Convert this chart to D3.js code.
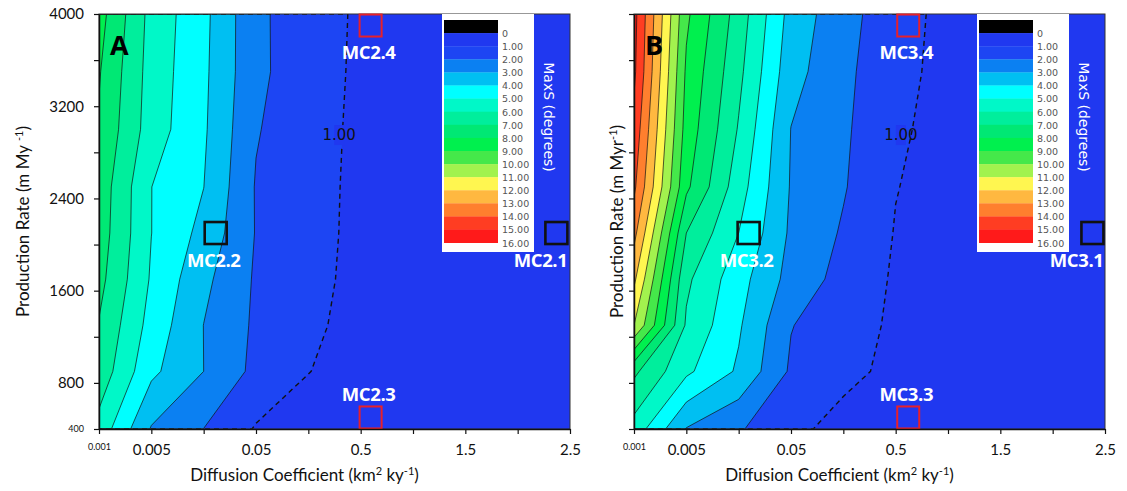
<!DOCTYPE html>
<meta charset="utf-8">
<script src="https://d3js.org/d3.v7.min.js"></script>
<style>
  body { margin: 0; background: #fff; }
  text { font-family: Lato, "Open Sans", sans-serif; }
</style>
<div id="chart"></div>
<script>

// grid columns: diffusion coefficient (km2 ky-1), evenly spaced on the plot
var diffusion = ["0.001", "0.005", "0.01", "0.05", "0.1", "0.5", "1.0", "1.5", "2.0", "2.5"];
var diffusionLabels = ["0.001", "0.005", "", "0.05", "", "0.5", "", "1.5", "", "2.5"];

// grid rows: production rate (m My-1)
var production = [400, 900, 1300, 1700, 2100, 2500, 3000, 3500, 4000];
var productionTicks = [400, 800, 1200, 1600, 2000, 2400, 2800, 3200, 3600, 4000];
var productionLabels = ["400", "800", "", "1600", "", "2400", "", "3200", "", "4000"];

// MaxS contour levels (degrees) and legend
var levels = d3.range(0, 17);
var levelLabels = ["0", "1.00", "2.00", "3.00", "4.00", "5.00", "6.00", "7.00", "8.00",
  "9.00", "10.00", "11.00", "12.00", "13.00", "14.00", "15.00", "16.00"];
var levelColors = ["#000000", "#2038f0", "#1d45f3", "#0b80f2", "#00bff2", "#00ffff",
  "#00f8c8", "#00ee9c", "#00e874", "#00f04e", "#45e84a", "#a2f24e", "#fff650",
  "#ffb840", "#ff7f2e", "#ff3d22", "#ff1a1a"];

// MaxS (degrees), one row per production rate (bottom to top)
var maxsA = [
  [5.65, 2.92, 1.99, 0.92, 0.60, 0.45, 0.35, 0.30, 0.25, 0.20],
  [6.64, 4.22, 3.00, 1.74, 1.02, 0.65, 0.50, 0.40, 0.33, 0.28],
  [6.94, 4.63, 2.99, 1.84, 1.19, 0.68, 0.55, 0.45, 0.37, 0.30],
  [7.31, 4.89, 3.25, 1.88, 1.27, 0.75, 0.57, 0.46, 0.38, 0.32],
  [7.52, 5.01, 3.70, 1.95, 1.32, 0.77, 0.58, 0.47, 0.39, 0.33],
  [7.61, 5.01, 4.01, 1.93, 1.34, 0.78, 0.59, 0.48, 0.40, 0.34],
  [7.89, 5.51, 4.14, 2.07, 1.38, 0.80, 0.60, 0.48, 0.40, 0.34],
  [8.08, 5.59, 4.20, 2.22, 1.43, 0.83, 0.60, 0.48, 0.40, 0.34],
  [8.39, 5.67, 4.26, 2.20, 1.46, 0.85, 0.60, 0.48, 0.40, 0.35]
];
var maxsB = [
  [5.60, 2.95, 2.10, 1.26, 0.65, 0.50, 0.42, 0.36, 0.32, 0.30],
  [7.20, 5.20, 3.85, 1.85, 1.27, 0.75, 0.55, 0.45, 0.38, 0.33],
  [11.0, 5.86, 4.13, 2.04, 1.40, 0.85, 0.60, 0.48, 0.40, 0.35],
  [12.2, 6.20, 4.39, 2.64, 1.65, 0.88, 0.60, 0.48, 0.40, 0.35],
  [13.3, 7.00, 5.00, 2.83, 1.89, 0.95, 0.62, 0.50, 0.42, 0.36],
  [14.2, 8.20, 5.45, 2.92, 2.08, 1.03, 0.65, 0.52, 0.43, 0.37],
  [14.7, 8.60, 5.92, 2.98, 2.16, 1.15, 0.68, 0.53, 0.44, 0.38],
  [15.2, 8.84, 6.26, 3.37, 2.23, 1.30, 0.70, 0.55, 0.45, 0.40],
  [15.33, 9.19, 6.55, 3.63, 2.34, 1.42, 0.70, 0.55, 0.45, 0.40]
];

// model runs: position as column index and production rate
var sitesA = [
  {name: "MC2.1", col: 8.74, p: 2100},
  {name: "MC2.2", col: 2.23, p: 2100},
  {name: "MC2.3", col: 5.19, p: 500},
  {name: "MC2.4", col: 5.19, p: 3900}
];
var sitesB = [
  {name: "MC3.1", col: 8.76, p: 2100},
  {name: "MC3.2", col: 2.19, p: 2100},
  {name: "MC3.3", col: 5.24, p: 500},
  {name: "MC3.4", col: 5.24, p: 3900}
];

var W = 1127, H = 491;
var marginTop = 14, pw = 471, ph = 415;

var svg = d3.select("#chart").append("svg")
    .attr("width", W)
    .attr("height", H);

function drawPanel(opt) {
  var nx = diffusion.length, ny = production.length;
  var g = svg.append("g").attr("transform", "translate(" + opt.left + "," + marginTop + ")");

  var x = d3.scaleLinear().domain([0, nx - 1]).range([0, pw]);
  var y = d3.scaleLinear().domain([400, 4000]).range([ph, 0]);
  var row = d3.scaleLinear().domain(d3.range(ny)).range(production);

  // filled contours
  var values = [];
  opt.grid.forEach(function(r) { values = values.concat(r); });
  var contours = d3.contours().size([nx, ny]).thresholds(levels)(values);

  var proj = d3.geoTransform({
    point: function(cx, cy) {
      var i = Math.max(0, Math.min(nx - 1, cx - 0.5));
      var j = Math.max(0, Math.min(ny - 1, cy - 0.5));
      this.stream.point(x(i), y(row(j)));
    }
  });
  var path = d3.geoPath(proj);

  g.append("clipPath").attr("id", "clip" + opt.letter)
    .append("rect").attr("width", pw).attr("height", ph);
  var plot = g.append("g").attr("clip-path", "url(#clip" + opt.letter + ")");

  plot.append("g").selectAll("path")
    .data(contours)
    .join("path")
      .attr("d", path)
      .attr("fill", function(d) { return levelColors[Math.min(d.value + 1, 16)]; });

  plot.append("g").selectAll("path")
    .data(contours.filter(function(d) { return d.value >= 1; }))
    .join("path")
      .attr("d", path)
      .attr("fill", "none")
      .attr("stroke", "#111")
      .attr("stroke-width", function(d) { return d.value === 1 ? 1.4 : 0.7; })
      .attr("stroke-dasharray", function(d) { return d.value === 1 ? "5,4" : null; });

  // label on the 1.00 contour
  var lab = plot.append("g")
    .attr("transform", "translate(" + x(opt.oneLabel[0]) + "," + y(opt.oneLabel[1]) + ")");
  lab.append("rect").attr("x", -5).attr("y", -10).attr("width", 10).attr("height", 20)
    .attr("fill", levelColors[1]);
  lab.append("text")
    .attr("text-anchor", "middle")
    .attr("dy", "0.36em")
    .style("font-family", "DejaVu Sans")
    .style("font-size", "15px")
    .attr("fill", "#111")
    .text("1.00");

  // frame
  g.append("rect").attr("width", pw).attr("height", ph)
    .attr("fill", "none").attr("stroke", "#333").attr("stroke-width", 1);

  // legend
  var leg = g.append("g").attr("transform", "translate(" + (pw - 128) + ",0)");
  leg.append("rect").attr("width", 92).attr("height", 238).attr("fill", "#fff");
  var sh = 13.1;
  leg.selectAll(".sw")
    .data(levels)
    .join("rect")
      .attr("class", "sw")
      .attr("x", 2)
      .attr("y", function(d, i) { return 6 + i * sh; })
      .attr("width", 54)
      .attr("height", sh + 0.3)
      .attr("fill", function(d, i) { return levelColors[i]; });
  leg.selectAll(".lb")
    .data(levelLabels)
    .join("text")
      .attr("class", "lb")
      .attr("x", 60)
      .attr("y", function(d, i) { return 6 + (i + 1) * sh + 0.5; })
      .attr("dy", "0.35em")
      .style("font-family", "DejaVu Sans")
      .style("font-size", "9.5px")
      .attr("fill", "#555")
      .text(function(d) { return d; });
  leg.append("text")
    .attr("transform", "translate(107,103) rotate(90)")
    .attr("text-anchor", "middle")
    .attr("dy", "0.35em")
    .style("font-family", "DejaVu Sans")
    .style("font-size", "14px")
    .attr("fill", "#fff")
    .text("MaxS (degrees)");

  // model run markers
  var site = g.selectAll(".site")
    .data(opt.sites)
    .join("g")
      .attr("class", "site")
      .attr("transform", function(d) { return "translate(" + x(d.col) + "," + y(d.p) + ")"; });
  site.append("rect")
    .attr("x", -11).attr("y", -11).attr("width", 22).attr("height", 22)
    .attr("fill", "none")
    .attr("stroke", function(d, i) { return i >= 2 ? "#e8202a" : "#111"; })
    .attr("stroke-width", function(d, i) { return i >= 2 ? 2 : 2.6; });
  site.append("text")
    .attr("x", function(d, i) { return i === 0 ? 11 : -2; })
    .attr("y", function(d) { return d.p < 1000 ? -23 : 27; })
    .attr("dy", "0.36em")
    .attr("text-anchor", function(d, i) { return i === 0 ? "end" : "middle"; })
    .style("font-family", "Open Sans")
    .style("font-weight", "bold")
    .style("font-size", "18.5px")
    .style("letter-spacing", "-0.4px")
    .attr("fill", "#fff")
    .text(function(d) { return d.name; });

  // panel letter
  g.append("text")
    .attr("x", 11).attr("y", 41)
    .style("font-family", "Open Sans")
    .style("font-weight", "bold")
    .style("font-size", "27px")
    .attr("fill", "#000")
    .text(opt.letter);

  // axes
  var gx = g.append("g")
    .attr("transform", "translate(0," + ph + ")")
    .call(d3.axisBottom(x)
      .tickValues(d3.range(nx))
      .tickFormat(function(i) { return diffusionLabels[i]; })
      .tickSize(5).tickPadding(10).tickSizeOuter(0));
  gx.selectAll("text").style("font-size", "15px").attr("fill", "#111");
  gx.selectAll(".tick").filter(function(i) { return i === 0; })
    .select("text").style("font-size", "9px");

  var gy = g.append("g")
    .call(d3.axisLeft(y)
      .tickValues(productionTicks)
      .tickFormat(function(p, i) { return opt.yLabels ? productionLabels[i] : ""; })
      .tickSize(5).tickPadding(10).tickSizeOuter(0));
  gy.selectAll("text").style("font-size", "15px").attr("fill", "#111");
  gy.selectAll(".tick").filter(function(p) { return p === 400; })
    .select("text").style("font-size", "9px");

  g.selectAll(".domain").attr("stroke", "#111").attr("stroke-width", 1.5);
  g.selectAll(".tick line").attr("stroke", "#111").attr("stroke-width", 1.2);
  g.selectAll(".tick text").style("font-family", "Lato");

  // axis titles
  var xt = svg.append("text")
    .attr("x", opt.left + pw / 2 - 30)
    .attr("y", 481)
    .attr("text-anchor", "middle")
    .style("font-size", "17px")
    .attr("fill", "#111");
  xt.append("tspan").text("Diffusion Coefficient (km");
  xt.append("tspan").attr("dy", -6).style("font-size", "11px").text("2");
  xt.append("tspan").attr("dy", 6).text(" ky");
  xt.append("tspan").attr("dy", -6).style("font-size", "11px").text("-1");
  xt.append("tspan").attr("dy", 6).text(")");

  var yt = svg.append("text")
    .attr("transform", "translate(" + opt.yTitleX + "," + (marginTop + ph / 2) + ") rotate(-90)")
    .attr("text-anchor", "middle")
    .attr("dy", "0.35em")
    .style("font-size", "17px")
    .attr("fill", "#111");
  yt.append("tspan").text(opt.yUnit);
  yt.append("tspan").attr("dy", -6).style("font-size", "11px").text("-1");
  yt.append("tspan").attr("dy", 6).text(")");
}

drawPanel({letter: "A", left: 99, grid: maxsA, sites: sitesA, yLabels: true,
  oneLabel: [4.59, 2950], yUnit: "Production Rate (m My ", yTitleX: 23});
drawPanel({letter: "B", left: 634, grid: maxsB, sites: sitesB, yLabels: false,
  oneLabel: [5.1, 2950], yUnit: "Production Rate (m Myr", yTitleX: 617});

</script>
